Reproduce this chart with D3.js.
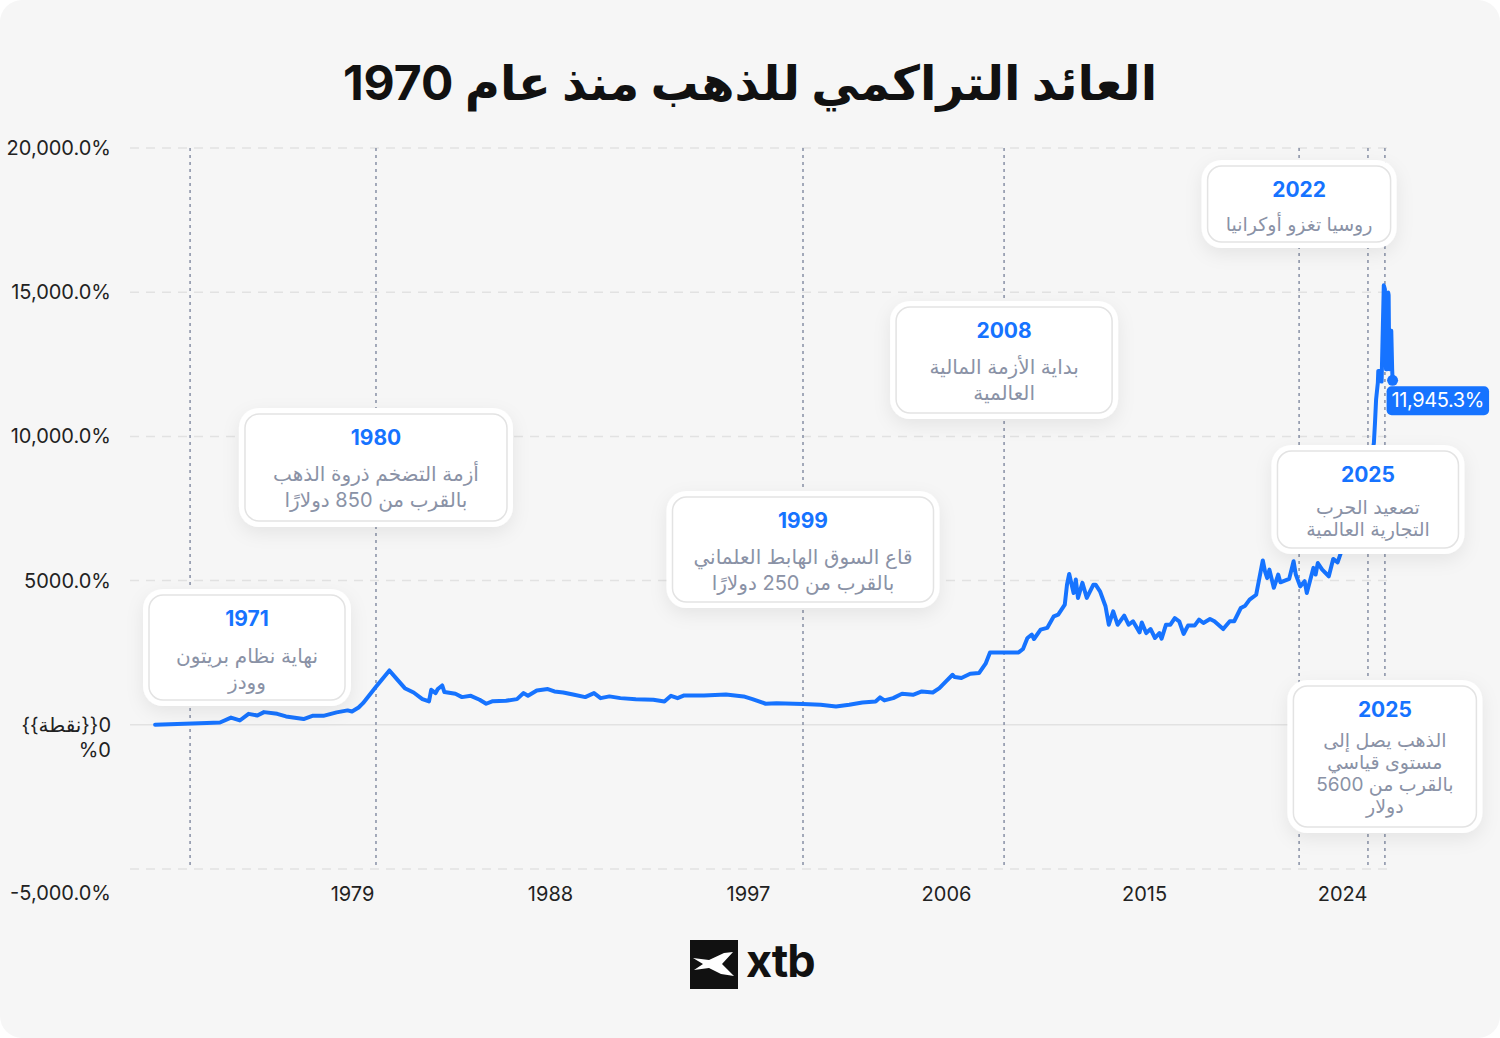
<!DOCTYPE html>
<html>
<head>
<meta charset="utf-8">
<script src="https://cdn.jsdelivr.net/npm/d3@7"></script>
<style>
  body { margin: 0; background: #ffffff; }
  svg { display: block; font-family: Inter, "Noto Sans", "DejaVu Sans", sans-serif; }
</style>
</head>
<body>
<div id="chart"></div>
<script>
// cumulative return of gold since 1970 (decimal years, %)
const years = [
  1970.05, 1972.4, 1973.0, 1973.5, 1973.9, 1974.3, 1974.7, 1975.0, 1975.6, 1976.0,
  1976.8, 1977.2, 1977.7, 1978.3, 1978.8, 1979.0, 1979.3, 1979.5, 1980.1, 1980.7,
  1981.0, 1981.4, 1981.8, 1982.2, 1982.5, 1982.6, 1982.8, 1982.9, 1983.1, 1983.2,
  1983.7, 1984.0, 1984.4, 1984.8, 1985.1, 1985.4, 1986.0, 1986.5, 1986.8, 1987.0,
  1987.4, 1987.9, 1988.2, 1988.6, 1989.1, 1989.6, 1990.0, 1990.3, 1990.7, 1991.2,
  1991.9, 1992.7, 1993.2, 1993.5, 1993.8, 1994.1, 1995.0, 1996.0, 1996.8, 1997.2,
  1997.8, 1998.3, 1999.5, 2000.3, 2001.0, 2001.6, 2002.2, 2002.8, 2003.0, 2003.2,
  2003.6, 2004.0, 2004.5, 2004.9, 2005.4, 2005.7, 2006.0, 2006.3, 2006.4, 2006.7,
  2007.1, 2007.5, 2007.8, 2008.0, 2009.3, 2009.5, 2009.7, 2009.9, 2010.0, 2010.3,
  2010.6, 2010.9, 2011.1, 2011.4, 2011.5, 2011.6, 2011.8, 2011.9, 2012.0, 2012.2,
  2012.4, 2012.7, 2012.8, 2013.0, 2013.25, 2013.4, 2013.6, 2013.8, 2014.1, 2014.3,
  2014.5, 2014.8, 2014.9, 2015.1, 2015.3, 2015.5, 2015.7, 2015.8, 2016.0, 2016.2,
  2016.4, 2016.6, 2016.8, 2017.0, 2017.3, 2017.5, 2017.7, 2018.0, 2018.2, 2018.6,
  2018.9, 2019.1, 2019.4, 2019.6, 2019.8, 2020.1, 2020.4, 2020.5, 2020.6, 2020.7,
  2020.9, 2021.1, 2021.2, 2021.6, 2021.8, 2021.9, 2022.1, 2022.3, 2022.4, 2022.7,
  2022.8, 2022.9, 2023.1, 2023.4, 2023.6, 2023.8, 2024.1, 2024.5, 2024.9, 2025.2,
  2025.45, 2025.5, 2025.55, 2025.63, 2025.65, 2025.79, 2025.8, 2025.9, 2025.95, 2026.0,
  2026.05, 2026.1, 2026.12, 2026.15, 2026.24, 2026.28, 2026.3
];
const returns = [
  0, 60, 80, 250, 150, 380, 320, 440, 380, 290,
  200, 310, 310, 430, 500, 460, 600, 750, 1330, 1885,
  1620, 1270, 1120, 890, 810, 1215, 1100, 1240, 1365, 1135,
  1075, 960, 1005, 870, 730, 820, 835, 890, 1100, 1005,
  1190, 1240, 1155, 1120, 1040, 960, 1100, 925, 985, 925,
  890, 870, 810, 1005, 925, 1020, 1020, 1050, 985, 890,
  730, 750, 720, 695, 635, 695, 775, 810, 950, 845,
  925, 1075, 1040, 1155, 1120, 1270, 1505, 1735, 1655, 1620,
  1770, 1795, 2120, 2510, 2510, 2630, 3010, 3125, 2975, 3300,
  3360, 3760, 3820, 4170, 4860, 5230, 4570, 5035, 4400, 4920,
  4400, 4860, 4860, 4630, 4110, 3470, 3935, 3470, 3785, 3470,
  3590, 3205, 3550, 3180, 3320, 3010, 3180, 2985, 3470, 3470,
  3700, 3590, 3150, 3440, 3440, 3645, 3530, 3670, 3590, 3320,
  3590, 3590, 4050, 4130, 4340, 4510, 5700, 5320, 5090, 5380,
  4750, 5210, 4940, 5060, 5670, 5210, 4800, 4980, 4570, 5440,
  5210, 5610, 5380, 5150, 5750, 5635, 6300, 7000, 7500, 8600,
  9780, 10475, 11285, 11865, 12270, 12270, 11900, 15240, 15100, 12330,
  12330, 14990, 14900, 12330, 13660, 12330, 11945.3
];

const yTicks = [-5000, 0, 5000, 10000, 15000, 20000];
const yTickLabels = ["-5,000.0%", "0{{نقطة}}\n%0", "5000.0%", "10,000.0%", "15,000.0%", "20,000.0%"];
const xTicks = [1979, 1988, 1997, 2006, 2015, 2024];

const eventDates = [1971.64, 1980.09, 1999.5, 2008.64, 2022.05, 2025.18, 2025.95];
const eventYears = ["1971", "1980", "1999", "2008", "2022", "2025", "2025"];
const eventTexts = [
  ["نهاية نظام بريتون", "وودز"],
  ["أزمة التضخم ذروة الذهب", "بالقرب من 850 دولارًا"],
  ["قاع السوق الهابط العلماني", "بالقرب من 250 دولارًا"],
  ["بداية الأزمة المالية", "العالمية"],
  ["روسيا تغزو أوكرانيا"],
  ["تصعيد الحرب", "التجارية العالمية"],
  ["الذهب يصل إلى", "مستوى قياسي", "بالقرب من 5600", "دولار"]
];
const lastLabel = "11,945.3%";
const title = "العائد التراكمي للذهب منذ عام 1970";

// layout of the note boxes: top edge, size, first text line offset, line height, text size
const noteLayout = [
  { top: 595, w: 196, h: 105, first: 68, lh: 26, fs: 20 },
  { top: 414, w: 262, h: 107, first: 67, lh: 26, fs: 20 },
  { top: 497, w: 261, h: 105, first: 67, lh: 26, fs: 20 },
  { top: 307, w: 216, h: 106, first: 67, lh: 26, fs: 20 },
  { top: 166, w: 183, h: 76, first: 65, lh: 26, fs: 19 },
  { top: 451, w: 181, h: 97, first: 63, lh: 22, fs: 19 },
  { top: 686, w: 183, h: 141, first: 61, lh: 22, fs: 19 }
];

const W = 1500, H = 1038;
const blue = "#1673ff";

const svg = d3.select("#chart").append("svg")
  .attr("width", W)
  .attr("height", H);

const defs = svg.append("defs");
const shadow = defs.append("filter").attr("id", "shadow")
  .attr("x", "-30%").attr("y", "-30%").attr("width", "160%").attr("height", "160%");
shadow.append("feDropShadow")
  .attr("dx", 0).attr("dy", 6).attr("stdDeviation", 9)
  .attr("flood-color", "#000").attr("flood-opacity", 0.07);

// card background
svg.append("rect")
  .attr("width", W).attr("height", H)
  .attr("rx", 22)
  .attr("fill", "#f6f6f6");

// title
svg.append("text")
  .attr("x", W / 2).attr("y", 100)
  .attr("direction", "rtl")
  .attr("text-anchor", "middle")
  .attr("font-size", 48)
  .attr("font-weight", 700)
  .attr("fill", "#111")
  .text(title);

const x = d3.scaleLinear().domain([1979, 2024]).range([352, 1342]);
const y = d3.scaleLinear().domain([-5000, 20000]).range([869, 148]);
const gridX0 = 130, gridX1 = 1392;

// horizontal grid
svg.append("g").selectAll("line")
  .data(yTicks)
  .join("line")
  .attr("x1", gridX0).attr("x2", gridX1)
  .attr("y1", d => y(d)).attr("y2", d => y(d))
  .attr("stroke", "#e2e2e2")
  .attr("stroke-width", 1.5)
  .attr("stroke-dasharray", d => d === 0 ? null : "9,7");

// y labels (the bottom one sits on the row of the year labels)
const yLab = svg.append("g").attr("font-size", 20).attr("fill", "#222");
yTicks.forEach((v, i) => {
  const lines = yTickLabels[i].split("\n");
  const base = v === yTicks[0] ? 900 : y(v) + 7;
  lines.forEach((s, j) => {
    const t = yLab.append("text")
      .attr("y", base + j * 25)
      .attr("direction", /[\u0600-\u06FF]/.test(s) ? "rtl" : "ltr")
      .attr("text-anchor", "middle")
      .text(s);
    const w = t.node().getComputedTextLength();
    t.attr("x", 111 - w / 2);
  });
});

// x axis labels
const xAxis = d3.axisBottom(x).tickValues(xTicks).tickFormat(d3.format("d")).tickSize(0).tickPadding(0);
const gx = svg.append("g").attr("transform", "translate(0,886)").call(xAxis);
gx.select(".domain").remove();
gx.selectAll("text")
  .attr("font-size", 20)
  .attr("font-family", "Inter, sans-serif")
  .attr("fill", "#222")
  .attr("dy", "0.75em")
  .attr("y", 0);

// event lines
svg.append("g").selectAll("line")
  .data(eventDates)
  .join("line")
  .attr("x1", d => x(d)).attr("x2", d => x(d))
  .attr("y1", y(20000)).attr("y2", y(-5000))
  .attr("stroke", "#8e96aa")
  .attr("stroke-width", 1.6)
  .attr("stroke-dasharray", "3,4");

// series line
const line = d3.line()
  .x((d, i) => x(years[i]))
  .y(d => y(d))
  .curve(d3.curveLinear);

svg.append("path")
  .datum(returns)
  .attr("d", line)
  .attr("fill", "none")
  .attr("stroke", blue)
  .attr("stroke-width", 4)
  .attr("stroke-linejoin", "round")
  .attr("stroke-linecap", "round");

// end point and value label
const lastX = x(years[years.length - 1]), lastY = y(returns[returns.length - 1]);
svg.append("circle")
  .attr("cx", lastX).attr("cy", lastY).attr("r", 5.5)
  .attr("fill", blue);
const lab = svg.append("g");
const labRect = lab.append("rect")
  .attr("x", lastX - 6).attr("y", lastY + 6)
  .attr("height", 29).attr("rx", 5)
  .attr("fill", blue);
const labText = lab.append("text")
  .attr("x", lastX - 1).attr("y", lastY + 27)
  .attr("font-size", 20)
  .attr("fill", "#fff")
  .attr("letter-spacing", -0.4)
  .text(lastLabel);
labRect.attr("width", labText.node().getComputedTextLength() + 10);

// note boxes
const notes = svg.append("g");
eventDates.forEach((d, i) => {
  const L = noteLayout[i];
  const cx = Math.max(x(d), 149 + L.w / 2);
  const g = notes.append("g");
  g.append("rect")
    .attr("x", cx - L.w / 2 - 6).attr("y", L.top - 6)
    .attr("width", L.w + 12).attr("height", L.h + 12).attr("rx", 20)
    .attr("fill", "#fff").attr("filter", "url(#shadow)");
  g.append("rect")
    .attr("x", cx - L.w / 2).attr("y", L.top)
    .attr("width", L.w).attr("height", L.h).attr("rx", 14)
    .attr("fill", "#fff").attr("stroke", "#e3e3e3").attr("stroke-width", 1.5);
  g.append("text")
    .attr("x", cx).attr("y", L.top + 31)
    .attr("text-anchor", "middle")
    .attr("font-size", 21)
    .attr("font-weight", 700)
    .attr("fill", blue)
    .text(eventYears[i]);
  g.selectAll("text.body")
    .data(eventTexts[i])
    .join("text")
    .attr("class", "body")
    .attr("x", cx)
    .attr("y", (s, j) => L.top + L.first + j * L.lh)
    .attr("direction", "rtl")
    .attr("text-anchor", "middle")
    .attr("font-size", L.fs)
    .attr("fill", "#8a92a6")
    .text(s => s);
});

// logo
const logo = svg.append("g");
logo.append("rect")
  .attr("x", 690).attr("y", 940).attr("width", 48).attr("height", 49)
  .attr("fill", "#111");
logo.append("path")
  .attr("d", "M693,958 L709,960 L724,953 L733,952 L722,964 L734,976 L721,974 L709,968 L694,970 L703,964 Z")
  .attr("fill", "#fff");
logo.append("text")
  .attr("x", 746).attr("y", 977)
  .attr("font-size", 45)
  .attr("font-weight", 700)
  .attr("letter-spacing", -1)
  .attr("fill", "#111")
  .text("xtb");
</script>
</body>
</html>
